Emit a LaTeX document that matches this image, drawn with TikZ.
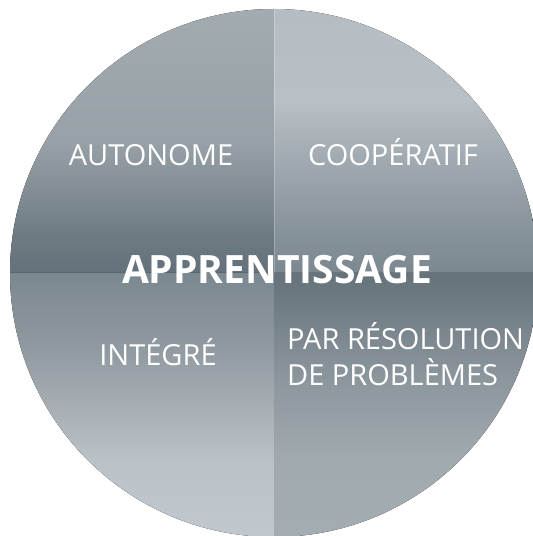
\documentclass[tikz,border=0pt]{standalone}
\usepackage{fontspec}
\setmainfont{Open Sans}
\definecolor{tlA}{HTML}{65717A}
\definecolor{tlB}{HTML}{6F7B83}
\definecolor{tlC}{HTML}{818C93}
\definecolor{tlD}{HTML}{97A1A7}
\definecolor{tlE}{HTML}{A2ABB0}
\definecolor{trA}{HTML}{7C8890}
\definecolor{trB}{HTML}{8A959C}
\definecolor{trC}{HTML}{A3ACB2}
\definecolor{trD}{HTML}{B8BFC5}
\definecolor{trE}{HTML}{B5BDC3}
\definecolor{blA}{HTML}{C0C7CD}
\definecolor{blB}{HTML}{BAC1C7}
\definecolor{blC}{HTML}{A4ACB2}
\definecolor{blD}{HTML}{8A949B}
\definecolor{blE}{HTML}{7C8890}
\definecolor{brA}{HTML}{A3ACB1}
\definecolor{brB}{HTML}{A1AAAF}
\definecolor{brC}{HTML}{8C969D}
\definecolor{brD}{HTML}{6E7A82}
\definecolor{brE}{HTML}{66737B}
\pgfdeclareverticalshading{tlshade}{100bp}{color(0bp)=(tlA); color(25bp)=(tlA); color(32.5bp)=(tlB); color(40bp)=(tlC); color(50bp)=(tlD); color(75bp)=(tlE); color(100bp)=(tlE)}
\pgfdeclareverticalshading{trshade}{100bp}{color(0bp)=(trA); color(25bp)=(trA); color(35bp)=(trB); color(47.5bp)=(trC); color(57.5bp)=(trD); color(75bp)=(trE); color(100bp)=(trE)}
\pgfdeclareverticalshading{blshade}{100bp}{color(0bp)=(blA); color(25bp)=(blA); color(39.5bp)=(blB); color(51bp)=(blC); color(64bp)=(blD); color(75bp)=(blE); color(100bp)=(blE)}
\pgfdeclareverticalshading{brshade}{100bp}{color(0bp)=(brA); color(25bp)=(brA); color(39.5bp)=(brB); color(55bp)=(brC); color(70bp)=(brD); color(75bp)=(brE); color(100bp)=(brE)}
\tikzset{
  label/.style={text=white, inner sep=0pt, font=\fontsize{29}{36}\selectfont},
  title/.style={text=white, inner sep=0pt, font=\fontsize{39}{46}\selectfont\bfseries}
}
\begin{document}
\begin{tikzpicture}[x=1pt,y=1pt]
\useasboundingbox (0,0) rectangle (533,536);
\clip (0,0) rectangle (533,536);
\coordinate (c) at (274,263);
\fill[shading=tlshade] (c) -- (10,263) arc[start angle=180,end angle=90,radius=264] -- cycle;
\fill[shading=trshade] (c) -- (274,527) arc[start angle=90,end angle=0,radius=264] -- cycle;
\fill[shading=blshade] (c) -- (274,-1) arc[start angle=270,end angle=180,radius=264] -- cycle;
\fill[shading=brshade] (c) -- (538,263) arc[start angle=0,end angle=-90,radius=264] -- cycle;
\coordinate (top) at (274,527);
\draw[white, opacity=0.25, line width=0.8pt] (c) -- (top);
\node[label, anchor=base] (auto) at (151,370) {AUTONOME};
\node[label, anchor=base] (coop) at (393,370) {COOPÉRATIF};
\node[label, anchor=base] (integ) at (158,170) {INTÉGRÉ};
\node[label, anchor=base west, align=left] (pbl) at (287,150) {PAR RÉSOLUTION\\DE PROBLÈMES};
\node[title, anchor=base] (app) at (277,252) {APPRENTISSAGE};
\end{tikzpicture}
\end{document}
